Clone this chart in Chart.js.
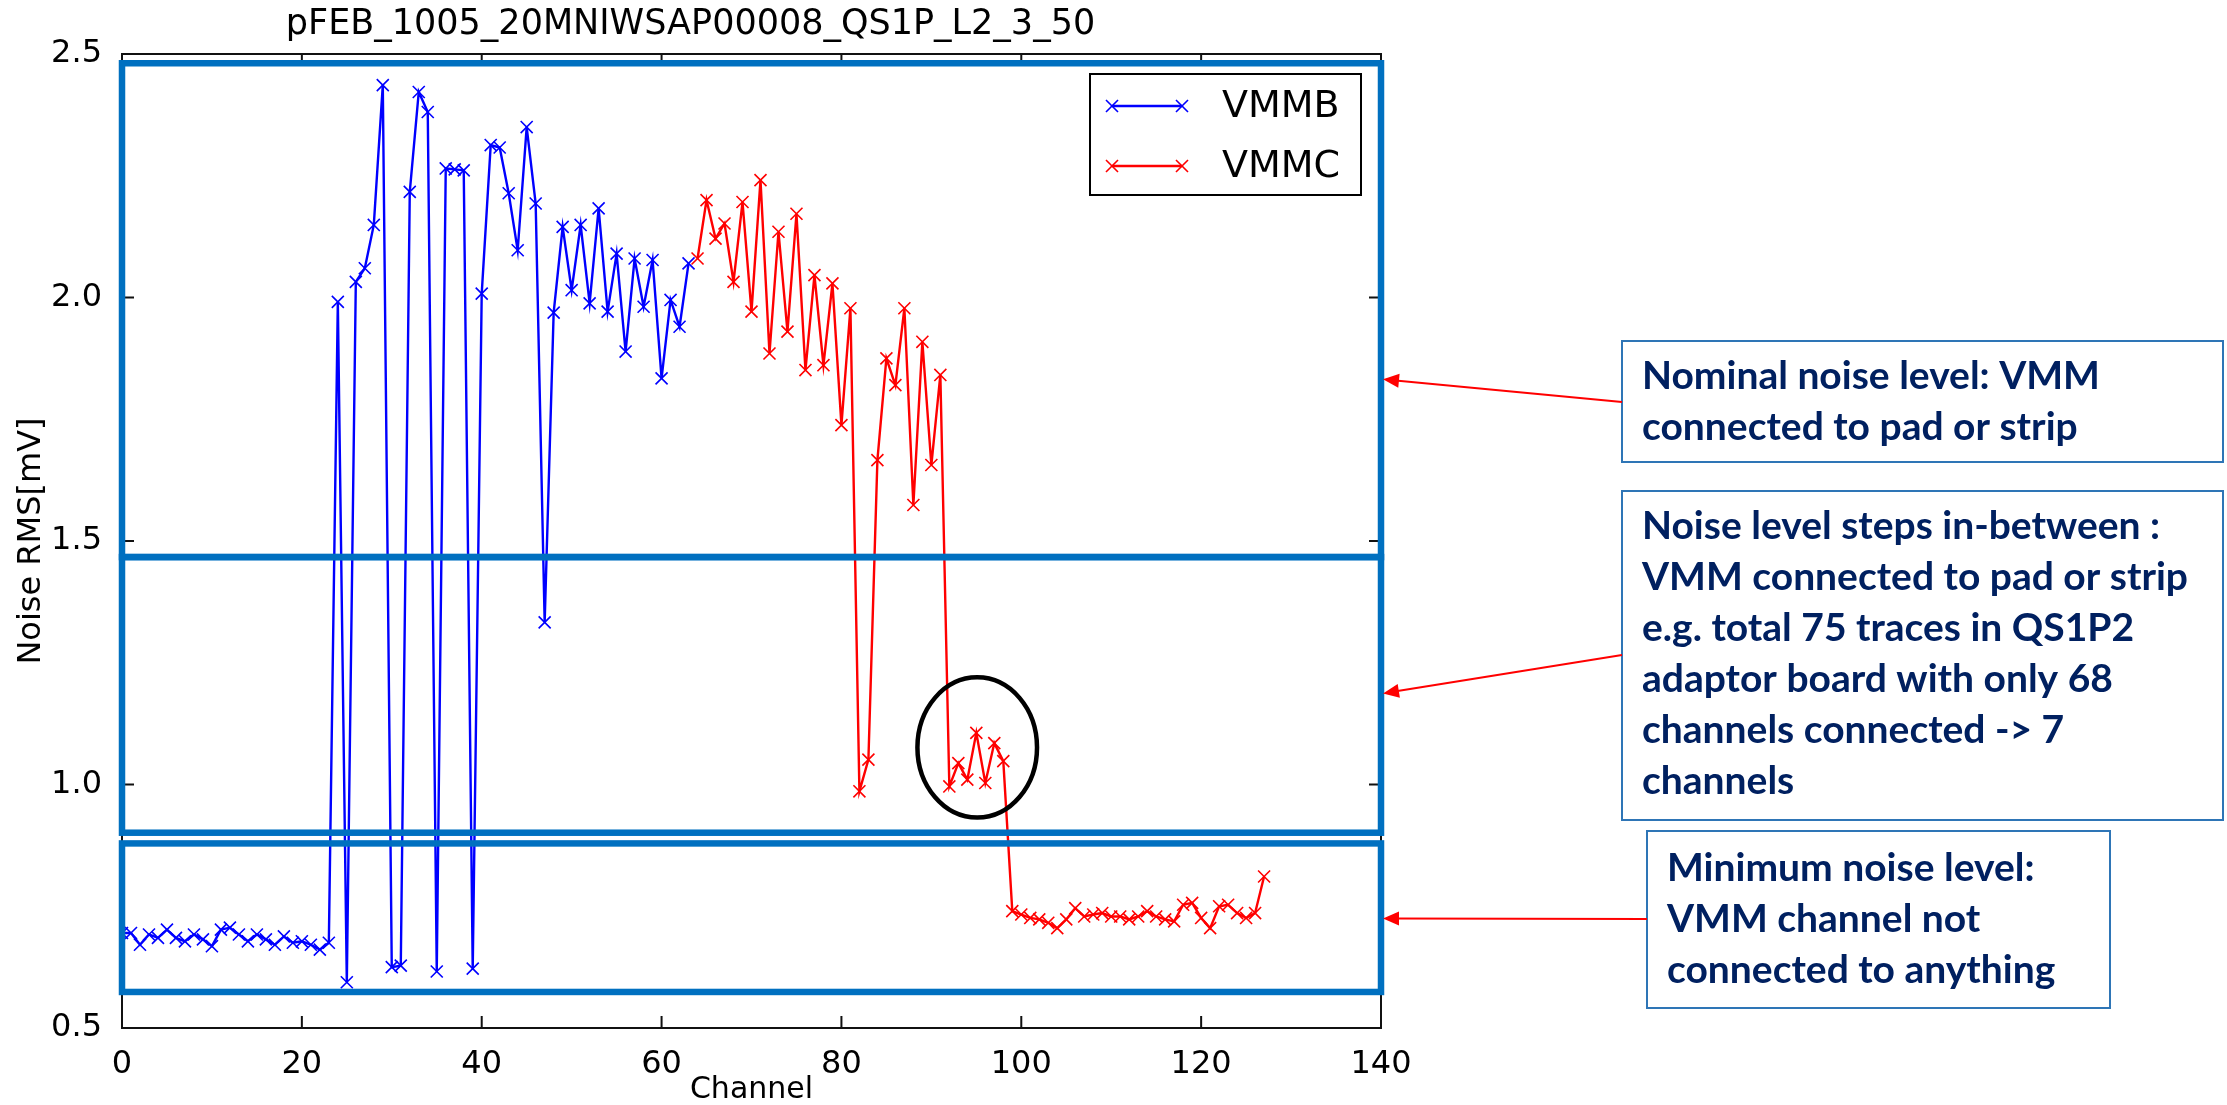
<!DOCTYPE html>
<html>
<head>
<meta charset="utf-8">
<title>pFEB noise</title>
<script src="https://cdn.jsdelivr.net/npm/chart.js@4.4.1/dist/chart.umd.min.js"></script>
<style>
  body { margin: 0; background: #fff; }
  canvas { display: block; }
</style>
</head>
<body>
<canvas id="noise-chart" width="2227" height="1105"></canvas>
<script>
var TITLE = "pFEB_1005_20MNIWSAP00008_QS1P_L2_3_50";

// channel numbers for the two VMMs
var vmmbChannels = [0,1,2,3,4,5,6,7,8,9,10,11,12,13,14,15,16,17,18,19,20,21,22,23,24,25,26,27,28,29,30,31,
  32,33,34,35,36,37,38,39,40,41,42,43,44,45,46,47,48,49,50,51,52,53,54,55,56,57,58,59,60,61,62,63];
var vmmcChannels = [64,65,66,67,68,69,70,71,72,73,74,75,76,77,78,79,80,81,82,83,84,85,86,87,88,89,90,91,92,93,94,95,
  96,97,98,99,100,101,102,103,104,105,106,107,108,109,110,111,112,113,114,115,116,117,118,119,120,121,122,123,124,125,126,127];

// noise RMS [mV]
var vmmbNoise = [0.695,0.695,0.671,0.692,0.685,0.702,0.685,0.678,0.692,0.682,0.668,0.702,0.706,0.692,0.678,0.692,
  0.682,0.671,0.688,0.675,0.678,0.671,0.661,0.675,1.991,0.594,2.032,2.060,2.149,2.436,0.625,0.628,
  2.217,2.422,2.381,0.616,2.265,2.263,2.261,0.622,2.008,2.313,2.308,2.214,2.097,2.350,2.193,1.333,
  1.969,2.145,2.015,2.149,1.988,2.183,1.971,2.090,1.889,2.080,1.981,2.077,1.834,1.995,1.940,2.070];
var vmmcNoise = [2.080,2.200,2.121,2.152,2.032,2.196,1.971,2.241,1.885,2.135,1.930,2.172,1.851,2.046,1.861,2.029,
  1.738,1.978,0.986,1.051,1.666,1.875,1.820,1.978,1.574,1.909,1.656,1.841,0.996,1.044,1.010,1.106,
  1.003,1.085,1.048,0.740,0.733,0.726,0.723,0.716,0.705,0.723,0.746,0.729,0.733,0.736,0.729,0.729,
  0.723,0.729,0.740,0.729,0.723,0.719,0.753,0.757,0.726,0.705,0.750,0.753,0.736,0.726,0.736,0.811];

var xTicks = [0, 20, 40, 60, 80, 100, 120, 140];
var yTicks = [0.5, 1.0, 1.5, 2.0, 2.5];

// noise bands marked on the plot: [from, to] in mV
var bandNominal = [2.481, 1.467];
var bandSteps = [1.467, 0.901];
var bandMinimum = [0.879, 0.574];

var notes = [
  { box: [1622, 341, 601, 121], x: 1642, lines: ["Nominal noise level: VMM", "connected to pad or strip"], first: 389, tail: [1622, 402], tip: 1.832 },
  { box: [1622, 491, 601, 329], x: 1642, lines: ["Noise level steps in-between :", "VMM connected to pad or strip", "e.g. total 75 traces in QS1P2", "adaptor board with only 68", "channels connected -> 7", "channels"], first: 539, tail: [1622, 655], tip: 1.187 },
  { box: [1647, 831, 463, 177], x: 1667, lines: ["Minimum noise level:", "VMM channel not", "connected to anything"], first: 881, tail: [1647, 919], tip: 0.725 }
];

function toPoints(ch, vals) {
  return ch.map(function (c, i) { return { x: c, y: vals[i] }; });
}

var axisFont = { family: "DejaVu Sans", size: 32 };

function arrow(ctx, x1, y1, x2, y2) {
  var a = Math.atan2(y2 - y1, x2 - x1);
  ctx.beginPath();
  ctx.moveTo(x1, y1);
  ctx.lineTo(x2 - Math.cos(a) * 10, y2 - Math.sin(a) * 10);
  ctx.stroke();
  ctx.beginPath();
  ctx.moveTo(x2, y2);
  ctx.lineTo(x2 - Math.cos(a) * 16 + Math.sin(a) * 7, y2 - Math.sin(a) * 16 - Math.cos(a) * 7);
  ctx.lineTo(x2 - Math.cos(a) * 16 - Math.sin(a) * 7, y2 - Math.sin(a) * 16 + Math.cos(a) * 7);
  ctx.closePath();
  ctx.fill();
}

var overlay = {
  id: "overlay",
  afterDatasetsDraw: function (chart) {
    var ctx = chart.ctx;
    var area = chart.chartArea;
    var xs = chart.scales.x, ys = chart.scales.y;
    ctx.save();

    // frame + inward ticks, matplotlib style
    ctx.strokeStyle = "#111";
    ctx.lineWidth = 2;
    ctx.strokeRect(area.left, area.top, area.right - area.left, area.bottom - area.top);
    ctx.beginPath();
    xTicks.forEach(function (t) {
      var px = xs.getPixelForValue(t);
      ctx.moveTo(px, area.bottom); ctx.lineTo(px, area.bottom - 12);
      ctx.moveTo(px, area.top); ctx.lineTo(px, area.top + 12);
    });
    yTicks.forEach(function (t) {
      var py = ys.getPixelForValue(t);
      ctx.moveTo(area.left, py); ctx.lineTo(area.left + 12, py);
      ctx.moveTo(area.right, py); ctx.lineTo(area.right - 12, py);
    });
    ctx.stroke();

    // legend
    var lx = area.right - 291, ly = area.top + 20;
    ctx.fillStyle = "#fff";
    ctx.fillRect(lx, ly, 271, 121);
    ctx.strokeStyle = "#000";
    ctx.lineWidth = 2;
    ctx.strokeRect(lx, ly, 271, 121);
    chart.data.datasets.forEach(function (ds, i) {
      var y = ly + 32 + i * 60;
      ctx.strokeStyle = ds.borderColor;
      ctx.lineWidth = ds.borderWidth;
      ctx.beginPath(); ctx.moveTo(lx + 22, y); ctx.lineTo(lx + 92, y); ctx.stroke();
      ctx.lineWidth = ds.pointBorderWidth;
      [lx + 22, lx + 92].forEach(function (mx) {
        Chart.helpers.drawPoint(ctx, { pointStyle: "crossRot", radius: ds.pointRadius, borderWidth: ds.pointBorderWidth, rotation: 0 }, mx, y);
      });
      ctx.fillStyle = "#000";
      ctx.font = "38px 'DejaVu Sans'";
      ctx.textBaseline = "middle";
      ctx.textAlign = "left";
      ctx.fillText(ds.label, lx + 132, y + 1);
    });

    // coloured band outlines
    ctx.strokeStyle = "#0070c0";
    ctx.lineWidth = 6.5;
    [bandNominal, bandSteps, bandMinimum].forEach(function (b) {
      var top = ys.getPixelForValue(b[0]), bot = ys.getPixelForValue(b[1]);
      ctx.strokeRect(area.left, top, area.right - area.left, bot - top);
    });

    // circle round the in-between channels
    var cx = xs.getPixelForValue(95.1), cy = ys.getPixelForValue(1.076);
    var rx = xs.getPixelForValue(95.1 + 6.65) - cx, ry = cy - ys.getPixelForValue(1.076 + 0.144);
    ctx.strokeStyle = "#000";
    ctx.lineWidth = 4.5;
    ctx.beginPath();
    ctx.ellipse(cx, cy, rx, ry, 0, 0, Math.PI * 2);
    ctx.stroke();

    // text boxes and arrows on the right
    notes.forEach(function (n) {
      ctx.strokeStyle = "#2e75b6";
      ctx.lineWidth = 2;
      ctx.strokeRect(n.box[0], n.box[1], n.box[2], n.box[3]);
      ctx.fillStyle = "#002060";
      ctx.font = "bold 39px Lato";
      ctx.textBaseline = "alphabetic";
      ctx.textAlign = "left";
      n.lines.forEach(function (t, i) { ctx.fillText(t, n.x, n.first + i * 51); });
      ctx.strokeStyle = "#ff0000";
      ctx.fillStyle = "#ff0000";
      ctx.lineWidth = 2;
      arrow(ctx, n.tail[0], n.tail[1], area.right + 2, ys.getPixelForValue(n.tip));
    });
    ctx.restore();
  }
};

new Chart(document.getElementById("noise-chart"), {
  type: "line",
  data: {
    datasets: [{
      label: "VMMB",
      data: toPoints(vmmbChannels, vmmbNoise),
      borderColor: "#0000ff",
      backgroundColor: "#0000ff",
      borderWidth: 2.4,
      pointStyle: "crossRot",
      pointRadius: 8.5,
      pointBorderWidth: 1.6,
      tension: 0
    }, {
      label: "VMMC",
      data: toPoints(vmmcChannels, vmmcNoise),
      borderColor: "#ff0000",
      backgroundColor: "#ff0000",
      borderWidth: 2.4,
      pointStyle: "crossRot",
      pointRadius: 8.5,
      pointBorderWidth: 1.6,
      tension: 0
    }]
  },
  options: {
    responsive: false,
    animation: false,
    devicePixelRatio: 1,
    events: [],
    layout: { padding: { left: 0, right: 846, top: 0, bottom: 0 } },
    plugins: {
      legend: { display: false },
      tooltip: { enabled: false },
      title: {
        display: true,
        text: TITLE,
        color: "#000",
        font: { family: "DejaVu Sans", size: 35, weight: "normal" },
        padding: { top: 4, bottom: 8 }
      }
    },
    scales: {
      x: {
        type: "linear",
        min: 0, max: 140,
        afterBuildTicks: function (s) { s.ticks = xTicks.map(function (v) { return { value: v }; }); },
        ticks: { color: "#000", font: axisFont, padding: 9, maxRotation: 0, callback: function (v) { return String(v); } },
        grid: { display: false },
        border: { display: false },
        title: { display: true, text: "Channel", color: "#000", font: { family: "DejaVu Sans", size: 30, lineHeight: 1 }, padding: 0 },
        afterFit: function (s) { s.height = 77; }
      },
      y: {
        min: 0.5, max: 2.5,
        afterBuildTicks: function (s) { s.ticks = yTicks.map(function (v) { return { value: v }; }); },
        ticks: { color: "#000", font: axisFont, padding: 12, callback: function (v) { return v.toFixed(1); } },
        grid: { display: false },
        border: { display: false },
        title: { display: true, text: "Noise RMS[mV]", color: "#000", font: { family: "DejaVu Sans", size: 32, lineHeight: 1 }, padding: { top: 16, bottom: 0 } },
        afterFit: function (s) { s.width = 122; }
      }
    }
  },
  plugins: [overlay]
});
</script>
</body>
</html>
